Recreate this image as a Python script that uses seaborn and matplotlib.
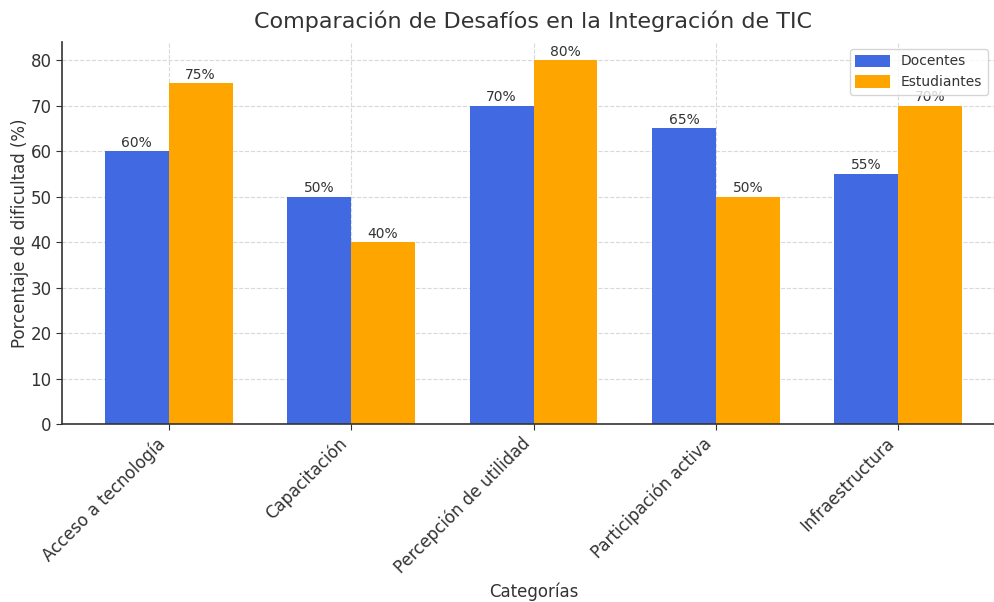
import matplotlib
matplotlib.use("Agg")
import matplotlib.pyplot as plt
import seaborn as sns
import pandas as pd

categorias = ["Acceso a tecnología", "Capacitación", "Percepción de utilidad",
              "Participación activa", "Infraestructura"]
docentes = [60, 50, 70, 65, 55]
estudiantes = [75, 40, 80, 50, 70]
grupos = ["Docentes", "Estudiantes"]

df = pd.DataFrame({
    "Categoría": categorias * 2,
    "Valor": docentes + estudiantes,
    "Grupo": [grupos[0]] * len(categorias) + [grupos[1]] * len(categorias),
})

sns.set_style("white")
plt.rcParams['font.family'] = ['DejaVu Sans']
txt = "#333333"

fig = plt.figure(figsize=(9.95, 6.02), dpi=100)
ax = fig.add_axes([62/995, 1 - 424/602, (1005 - 62)/995, (424 - 42)/602])

sns.barplot(data=df, x="Categoría", y="Valor", hue="Grupo", ax=ax,
            palette=["#4169E1", "#FFA500"], width=0.7, saturation=1,
            linewidth=0, edgecolor="none")

for c in ax.containers:
    ax.bar_label(c, fmt="%d%%", fontsize=10, color=txt, padding=1)

ax.set_xlim(-0.585, 4.585)
ax.set_ylim(0, 84)
ax.set_axisbelow(True)
ax.grid(True, linestyle="--", color="#d0d0d0", linewidth=0.8, alpha=0.8)
for s in ["top", "right"]:
    ax.spines[s].set_visible(False)
for s in ["left", "bottom"]:
    ax.spines[s].set_color("#333333")
    ax.spines[s].set_linewidth(1.2)

ax.set_title("Comparación de Desafíos en la Integración de TIC", fontsize=16, color=txt, pad=10)
ax.set_xlabel("Categorías", fontsize=12, color=txt)
ax.set_ylabel("Porcentaje de dificultad (%)", fontsize=12, color=txt, labelpad=1)
ax.tick_params(axis="both", labelsize=12, colors=txt, left=True, bottom=True, length=4)
plt.setp(ax.get_xticklabels(), rotation=45, ha="right")

leg = ax.legend(loc="upper right", bbox_to_anchor=((995 - 62) / (1005 - 62), 1.0),
                fontsize=10, frameon=True, handlelength=2.5, handleheight=1.0)
leg.set_title(None)
for t in leg.get_texts():
    t.set_color(txt)

fig.savefig("out.png", dpi=100)
